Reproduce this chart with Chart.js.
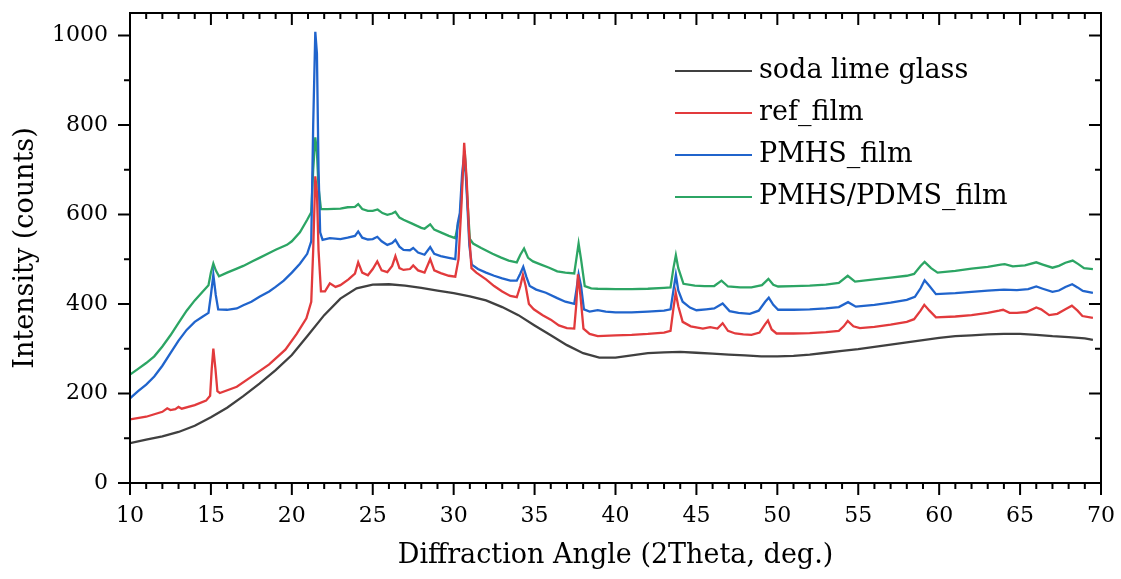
<!DOCTYPE html>
<html>
<head>
<meta charset="utf-8">
<script src="https://cdn.jsdelivr.net/npm/chart.js@4.4.0/dist/chart.umd.min.js"></script>
<style>
  html, body { margin: 0; padding: 0; background: #fff; }
</style>
</head>
<body>
<canvas id="xrd-chart" width="1121" height="579"></canvas>
<script>
// series names and colours
const seriesNames = ['soda lime glass', 'ref_film', 'PMHS_film', 'PMHS/PDMS_film'];
const seriesColors = ['rgb(64,64,64)', 'rgb(226,58,60)', 'rgb(32,100,204)', 'rgb(44,165,100)'];

// tick labels
const xTickLabels = [10, 15, 20, 25, 30, 35, 40, 45, 50, 55, 60, 65, 70];
const yTickLabels = [0, 200, 400, 600, 800, 1000];

// [2theta, counts]
const sodaLime = [
    [10, 89], [11, 97], [12, 104], [13, 114], [14, 128], [15, 147], [16, 168], [17, 194], [18, 222],
    [19, 252], [20, 286], [21, 330], [22, 375], [23, 412], [24, 435], [25, 443], [26, 444], [27, 441],
    [28, 436], [29, 430], [30, 424], [31, 417], [32, 408], [33, 393], [34, 375], [35, 352], [36, 330],
    [37, 308], [38, 290], [39, 280], [40, 280], [41, 285], [42, 290], [43, 292], [44, 293], [45, 291],
    [46, 289], [47, 287], [48, 285], [49, 283], [50, 283], [51, 284], [52, 287], [53, 291], [54, 295],
    [55, 299], [56, 304], [57, 309], [58, 314], [59, 319], [60, 324], [61, 328], [62, 330], [63, 332],
    [64, 333], [65, 333], [66, 331], [67, 328], [68, 326], [69, 323], [69.5, 320]
];

const refFilm = [
    [10, 142], [11, 148], [12, 159], [12.3, 167], [12.5, 163], [12.8, 165], [13.0, 170], [13.2, 166],
    [14, 174], [14.7, 184], [14.95, 195], [15.05, 255], [15.15, 300], [15.28, 255], [15.4, 205],
    [15.55, 201], [16.6, 215], [17.6, 240], [18.6, 265], [19.6, 298], [20.3, 333], [20.9, 368],
    [21.2, 405], [21.32, 520], [21.45, 685], [21.55, 650], [21.65, 520], [21.8, 428], [22.05, 428],
    [22.35, 446], [22.7, 438], [23.0, 442], [23.5, 455], [23.9, 468], [24.1, 493], [24.35, 470],
    [24.7, 464], [25.0, 478], [25.28, 495], [25.55, 475], [25.9, 471], [26.2, 485], [26.4, 507],
    [26.65, 480], [26.9, 476], [27.3, 478], [27.5, 486], [27.8, 475], [28.2, 470], [28.55, 500],
    [28.8, 475], [29.2, 469], [29.7, 463], [30.1, 461], [30.3, 500], [30.48, 620], [30.65, 760],
    [30.8, 680], [30.95, 560], [31.1, 480], [31.4, 470], [32, 455], [32.5, 440], [33, 428],
    [33.5, 418], [33.9, 415], [34.12, 440], [34.28, 465], [34.45, 440], [34.65, 400], [34.95, 388],
    [35.5, 375], [36, 365], [36.5, 352], [37.0, 346], [37.45, 345], [37.58, 400], [37.68, 466],
    [37.83, 420], [38.02, 345], [38.4, 333], [38.9, 328], [40, 330], [41, 331], [42, 333], [43, 336],
    [43.4, 340], [43.58, 390], [43.72, 425], [43.88, 395], [44.15, 360], [44.65, 350], [45.4, 345],
    [45.85, 348], [46.3, 345], [46.62, 357], [46.95, 340], [47.4, 334], [47.9, 332], [48.4, 331],
    [48.9, 336], [49.25, 355], [49.42, 363], [49.65, 343], [49.95, 334], [51, 334], [52, 335],
    [53, 337], [53.8, 340], [54.1, 350], [54.35, 362], [54.7, 350], [55.1, 346], [56, 349], [57, 354],
    [58, 360], [58.45, 366], [58.85, 385], [59.08, 398], [59.4, 385], [59.8, 370], [61, 372],
    [62, 375], [63, 380], [63.7, 385], [63.95, 387], [64.35, 380], [64.8, 380], [65.4, 382],
    [66.0, 392], [66.3, 388], [66.8, 375], [67.3, 378], [67.8, 388], [68.2, 396], [68.55, 385],
    [68.85, 373], [69.5, 369]
];

const pmhsFilm = [
    [10, 189], [10.5, 205], [11, 220], [11.5, 238], [12, 262], [12.5, 290], [13, 318], [13.5, 342],
    [14, 360], [14.5, 372], [14.85, 380], [15.0, 420], [15.15, 465], [15.3, 420], [15.45, 388],
    [16, 387], [16.6, 390], [17, 397], [17.5, 405], [18, 416], [18.6, 428], [19, 438], [19.5, 452],
    [20, 470], [20.5, 490], [20.95, 512], [21.2, 540], [21.32, 800], [21.45, 1008], [21.55, 960],
    [21.65, 700], [21.75, 560], [21.9, 543], [22.35, 547], [23, 545], [23.45, 548], [23.9, 552],
    [24.1, 562], [24.35, 548], [24.7, 544], [25.0, 545], [25.28, 550], [25.55, 540], [25.9, 532],
    [26.2, 536], [26.4, 543], [26.65, 528], [26.9, 521], [27.3, 520], [27.5, 525], [27.8, 515],
    [28.2, 510], [28.55, 527], [28.8, 512], [29.2, 507], [29.7, 503], [30.1, 500], [30.25, 580],
    [30.38, 603], [30.52, 690], [30.67, 742], [30.82, 640], [30.97, 530], [31.12, 488], [31.5, 478],
    [32, 470], [32.5, 463], [33, 457], [33.5, 452], [33.9, 452], [34.12, 468], [34.3, 483],
    [34.5, 460], [34.7, 440], [35.1, 432], [35.7, 425], [36.4, 413], [36.9, 405], [37.45, 400],
    [37.58, 430], [37.72, 466], [37.87, 440], [38.05, 388], [38.4, 383], [38.9, 386], [39.4, 383],
    [40, 381], [41, 381], [42, 383], [43, 385], [43.4, 388], [43.58, 430], [43.73, 465], [43.88, 430],
    [44.15, 405], [44.6, 392], [45.0, 386], [45.6, 388], [46.1, 390], [46.62, 401], [47.05, 384],
    [47.6, 380], [48.3, 378], [48.85, 385], [49.25, 405], [49.47, 414], [49.75, 398], [50.05, 387],
    [51, 387], [52, 388], [53, 390], [53.8, 393], [54.37, 404], [54.85, 394], [56, 398], [57, 403],
    [58, 409], [58.5, 416], [58.85, 435], [59.1, 453], [59.4, 440], [59.8, 422], [61, 424], [62, 427],
    [63, 430], [64, 432], [64.8, 431], [65.5, 433], [66.0, 439], [66.4, 434], [67.0, 427], [67.4, 430],
    [67.8, 438], [68.22, 444], [68.55, 437], [68.88, 429], [69.5, 425]
];

const pmhsPdmsFilm = [
    [10, 242], [10.5, 255], [11, 268], [11.5, 283], [12, 305], [12.5, 330], [13, 358], [13.5, 385],
    [14, 408], [14.5, 428], [14.85, 442], [15.0, 470], [15.15, 490], [15.3, 475], [15.5, 462],
    [16, 470], [16.6, 479], [17, 485], [17.6, 496], [18, 503], [18.6, 514], [19, 521], [19.7, 532],
    [20, 540], [20.5, 560], [20.95, 588], [21.2, 605], [21.32, 700], [21.45, 772], [21.55, 740],
    [21.65, 660], [21.8, 612], [22.2, 612], [23, 613], [23.45, 616], [23.9, 617], [24.1, 623],
    [24.35, 612], [24.7, 608], [25.0, 608], [25.3, 611], [25.6, 603], [25.9, 599], [26.2, 602],
    [26.4, 606], [26.65, 593], [26.9, 588], [27.4, 580], [28.0, 570], [28.2, 568], [28.55, 578],
    [28.8, 566], [29.2, 560], [29.7, 552], [30.1, 547], [30.25, 575], [30.4, 593], [30.55, 690],
    [30.72, 718], [30.87, 620], [31.0, 545], [31.2, 535], [31.7, 525], [32.4, 512], [32.9, 504],
    [33.4, 497], [33.9, 493], [34.12, 510], [34.35, 524], [34.6, 503], [34.9, 495], [35.4, 488],
    [35.9, 481], [36.4, 473], [36.9, 470], [37.45, 468], [37.58, 500], [37.72, 535], [37.87, 500],
    [38.1, 440], [38.5, 435], [38.9, 434], [40, 433], [41, 433], [42, 434], [43, 436], [43.4, 437],
    [43.58, 480], [43.73, 509], [43.88, 480], [44.2, 445], [44.9, 441], [45.5, 440], [46.1, 440],
    [46.55, 452], [46.95, 439], [47.7, 437], [48.4, 437], [49.05, 442], [49.45, 456], [49.75, 443],
    [50.05, 439], [51, 440], [52, 441], [53, 443], [53.8, 447], [54.35, 463], [54.8, 450], [56, 455],
    [57, 459], [58, 463], [58.45, 467], [58.85, 485], [59.1, 494], [59.5, 480], [59.9, 470], [61, 474],
    [62, 479], [63, 483], [63.8, 488], [64.05, 489], [64.55, 484], [65.3, 486], [66.0, 493],
    [66.4, 488], [67.0, 481], [67.4, 485], [67.8, 492], [68.25, 497], [68.6, 489], [68.95, 480],
    [69.5, 478]
];

const allSeries = [sodaLime, refFilm, pmhsFilm, pmhsPdmsFilm];

const serif = 'DejaVu Serif';

// box + mirrored ticks (bottom/left outward, top/right inward like Origin)
const frameTicks = {
    id: 'frameTicks',
    afterDatasetsDraw(chart) {
        const { ctx, chartArea: a, scales: { x, y } } = chart;
        ctx.save();
        ctx.strokeStyle = '#000';
        ctx.lineWidth = 2;
        ctx.beginPath();
        for (let v = xTickLabels[0]; v <= xTickLabels[xTickLabels.length - 1]; v += 1) {
            const px = x.getPixelForValue(v);
            const len = xTickLabels.includes(v) ? 12 : 6;
            ctx.moveTo(px, a.bottom); ctx.lineTo(px, a.bottom + len);
            ctx.moveTo(px, a.top); ctx.lineTo(px, a.top + len);
        }
        for (let v = 0; v <= yTickLabels[yTickLabels.length - 1]; v += 100) {
            const py = y.getPixelForValue(v);
            const len = yTickLabels.includes(v) ? 12 : 6;
            ctx.moveTo(a.left, py); ctx.lineTo(a.left - len, py);
            ctx.moveTo(a.right, py); ctx.lineTo(a.right - len, py);
        }
        ctx.stroke();
        ctx.strokeRect(a.left, a.top, a.right - a.left, a.bottom - a.top);
        ctx.restore();
    }
};

// plain line legend inside the plot
const lineLegend = {
    id: 'lineLegend',
    afterDraw(chart) {
        const { ctx } = chart;
        ctx.save();
        ctx.font = '27px "' + serif + '"';
        ctx.textBaseline = 'middle';
        ctx.fillStyle = '#000';
        chart.data.datasets.forEach((ds, i) => {
            const ly = 71 + i * 42;
            ctx.strokeStyle = ds.borderColor;
            ctx.lineWidth = 2;
            ctx.beginPath();
            ctx.moveTo(675, ly);
            ctx.lineTo(752, ly);
            ctx.stroke();
            ctx.fillText(ds.label, 759, ly);
        });
        ctx.restore();
    }
};

new Chart(document.getElementById('xrd-chart'), {
    type: 'line',
    data: {
        datasets: allSeries.map((s, i) => ({
            label: seriesNames[i],
            data: s.map(p => ({ x: p[0], y: p[1] })),
            borderColor: seriesColors[i],
            borderWidth: 2.3,
            pointRadius: 0,
            tension: 0,
            fill: false
        }))
    },
    options: {
        responsive: false,
        animation: false,
        devicePixelRatio: 1,
        layout: { padding: { top: 13, right: 20, left: 0, bottom: 0 } },
        plugins: {
            legend: { display: false },
            tooltip: { enabled: false }
        },
        scales: {
            x: {
                type: 'linear',
                min: 10,
                max: 70,
                afterFit: scale => {
                    scale.height = 96;
                    scale.paddingLeft = 0;
                    scale.paddingRight = 0;
                },
                afterBuildTicks: scale => { scale.ticks = xTickLabels.map(v => ({ value: v })); },
                grid: { display: false, drawTicks: false },
                border: { display: false },
                ticks: {
                    color: '#000',
                    padding: 20,
                    font: { family: serif, size: 22 },
                    callback: v => String(v)
                },
                title: {
                    display: true,
                    text: 'Diffraction Angle (2Theta, deg.)',
                    color: '#000',
                    font: { family: serif, size: 27 },
                    padding: { top: 0, bottom: 7 }
                }
            },
            y: {
                type: 'linear',
                min: 0,
                max: 1050,
                afterFit: scale => {
                    scale.width = 130;
                    scale.paddingTop = 0;
                    scale.paddingBottom = 0;
                },
                afterBuildTicks: scale => { scale.ticks = yTickLabels.map(v => ({ value: v })); },
                grid: { display: false, drawTicks: false },
                border: { display: false },
                ticks: {
                    color: '#000',
                    padding: 22,
                    font: { family: serif, size: 22 },
                    callback: v => String(v)
                },
                title: {
                    display: true,
                    text: 'Intensity (counts)',
                    color: '#000',
                    font: { family: serif, size: 27 },
                    padding: { top: 10, bottom: 0 }
                }
            }
        }
    },
    plugins: [frameTicks, lineLegend]
});
</script>
</body>
</html>
